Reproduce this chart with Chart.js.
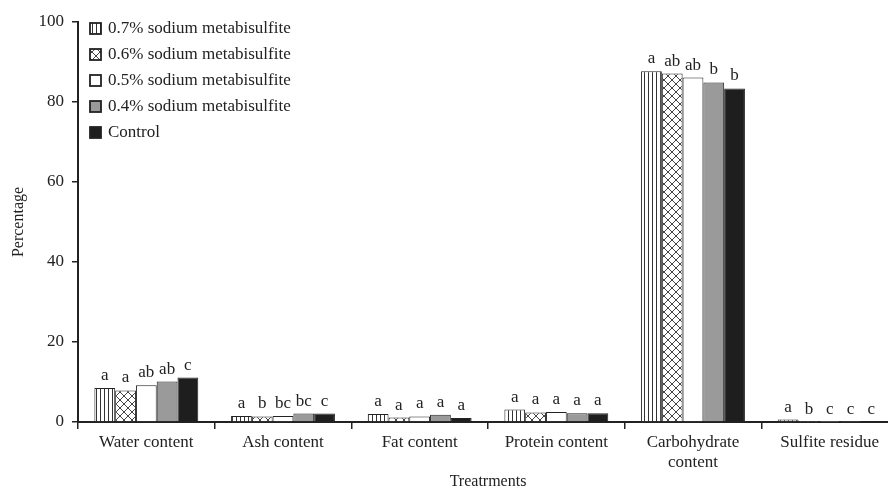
<!DOCTYPE html>
<html><head><meta charset="utf-8">
<script src="https://cdn.jsdelivr.net/npm/chart.js@4/dist/chart.umd.min.js"></script>
<style>html,body{margin:0;padding:0;overflow:hidden;background:#fff;width:888px;height:490px}
#wrap{width:900px;height:490px;position:relative}</style></head>
<body><div id="wrap"><canvas id="c" width="900" height="490"></canvas></div>
<script>
const categories = ["Water content","Ash content","Fat content","Protein content",["Carbohydrate","content"],"Sulfite residue"];
const seriesNames = ["0.7% sodium metabisulfite","0.6% sodium metabisulfite","0.5% sodium metabisulfite","0.4% sodium metabisulfite","Control"];
const s07 = [8.5,1.5,2.0,3.1,87.7,0.6];
const s06 = [7.9,1.4,1.1,2.4,87.1,0.05];
const s05 = [9.2,1.5,1.4,2.5,86.1,0.03];
const s04 = [10.1,2.1,1.8,2.2,84.9,0.03];
const sCtrl = [11.1,2.1,1.0,2.2,83.4,0.03];
const letters07 = ["a","a","a","a","a","a"];
const letters06 = ["a","b","a","a","ab","b"];
const letters05 = ["ab","bc","a","a","ab","c"];
const letters04 = ["ab","bc","a","a","b","c"];
const lettersCtrl = ["c","c","a","a","b","c"];
const yTicks = [0,20,40,60,80,100];
const xTitle = "Treatrments";
const yTitle = "Percentage";

const canvas = document.getElementById('c');
const ctx = canvas.getContext('2d');
const INK = '#222';
const FONT = '"Liberation Serif", "Times New Roman", serif';

function stripePattern(){
  const c=document.createElement('canvas'); c.width=4; c.height=4;
  const x=c.getContext('2d'); x.fillStyle='#fff'; x.fillRect(0,0,4,4);
  x.fillStyle='#333'; x.fillRect(0,0,1,4);
  return ctx.createPattern(c,'repeat');
}
function hatchPattern(){
  const c=document.createElement('canvas'); c.width=8; c.height=8;
  const x=c.getContext('2d'); x.fillStyle='#fff'; x.fillRect(0,0,8,8);
  x.strokeStyle='#444'; x.lineWidth=1;
  x.beginPath(); x.moveTo(0,0); x.lineTo(8,8); x.moveTo(8,0); x.lineTo(0,8);
  x.moveTo(-4,4); x.lineTo(0,8); x.moveTo(4,-4); x.lineTo(12,4);
  x.stroke();
  return ctx.createPattern(c,'repeat');
}
const fills = [stripePattern(), hatchPattern(), '#ffffff', '#9a9a9a', '#1e1e1e'];
const seriesValues = [s07,s06,s05,s04,sCtrl];
const seriesLetters = [letters07,letters06,letters05,letters04,lettersCtrl];

const datasets = seriesNames.map((n,i)=>({
  label:n, data:seriesValues[i], backgroundColor:fills[i],
  borderColor:INK, borderWidth:1, barPercentage:1, categoryPercentage:0.76
}));

const lettersPlugin = {
  id:'letters',
  afterDatasetsDraw(chart){
    const c=chart.ctx; c.save();
    c.font='17px '+FONT; c.fillStyle=INK; c.textAlign='center'; c.textBaseline='bottom';
    chart.data.datasets.forEach((ds,i)=>{
      chart.getDatasetMeta(i).data.forEach((el,j)=>{
        c.fillText(seriesLetters[i][j], el.x, el.y-4);
      });
    });
    c.restore();
  }
};
const legendPlugin = {
  id:'legendIn',
  afterDraw(chart){
    const c=chart.ctx; c.save();
    c.font='17px '+FONT; c.textBaseline='middle'; c.textAlign='left';
    const x0=chart.chartArea.left+12, y0=chart.chartArea.top+7;
    seriesNames.forEach((n,i)=>{
      const y=y0+i*26;
      c.fillStyle=fills[i]; c.fillRect(x0,y-6,11,11);
      c.strokeStyle=INK; c.lineWidth=1.8; c.strokeRect(x0,y-6,11,11);
      c.fillStyle=INK; c.fillText(n,x0+18,y);
    });
    c.restore();
  }
};

new Chart(canvas,{
  type:'bar',
  data:{labels:categories, datasets},
  plugins:[lettersPlugin, legendPlugin],
  options:{
    responsive:false, animation:false, devicePixelRatio:1,
    layout:{padding:{top:22,right:2,bottom:0,left:0}},
    plugins:{legend:{display:false}, tooltip:{enabled:false}},
    scales:{
      x:{
        grid:{display:true, drawOnChartArea:false, offset:true, tickLength:7, color:INK, lineWidth:1.5},
        border:{color:INK, width:2},
        ticks:{font:{family:FONT,size:17}, color:INK, padding:3, maxRotation:0, autoSkip:false},
        title:{display:true, text:xTitle, font:{family:FONT,size:16,lineHeight:1}, color:INK, padding:{top:0,bottom:0}},
        afterFit(s){ s.height=68; }
      },
      y:{
        min:0, max:100,
        afterBuildTicks(s){ s.ticks = yTicks.map(v=>({value:v})); },
        grid:{display:true, drawOnChartArea:false, tickLength:6, color:INK, lineWidth:1.5},
        border:{color:INK, width:2},
        ticks:{font:{family:FONT,size:17}, color:INK, padding:8},
        title:{display:true, text:yTitle, font:{family:FONT,size:16}, color:INK, padding:{top:9,bottom:0}},
        afterFit(s){ s.width=78; }
      }
    }
  }
});
</script></body></html>
